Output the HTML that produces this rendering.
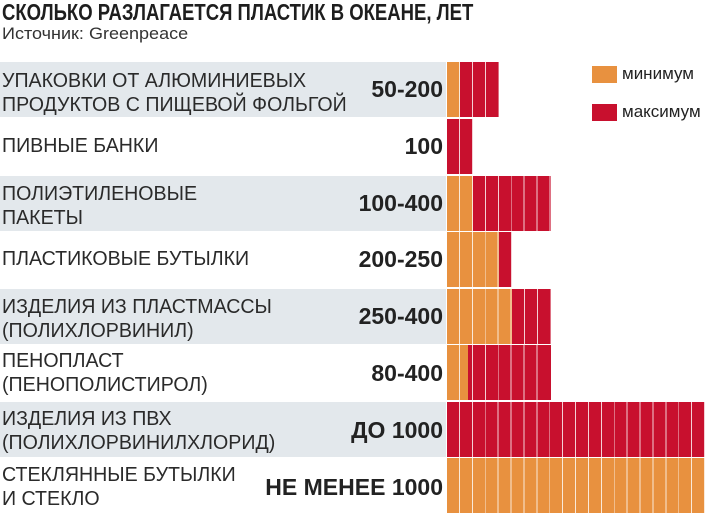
<!DOCTYPE html>
<html><head><meta charset="utf-8"><style>
body{margin:0;width:705px;height:517px;background:#fff;position:relative;overflow:hidden;font-family:"Liberation Sans",sans-serif;color:#222}
.t{position:absolute;left:2px;top:0px;font-weight:bold;font-size:23px;line-height:24px;white-space:nowrap;transform-origin:0 0;transform:scaleX(0.805);color:#1e1e1e}
.s{position:absolute;left:2px;top:23px;font-size:17px;line-height:22px;white-space:nowrap;transform-origin:0 0;transform:scaleX(1.06);color:#333}
.row{position:absolute;left:0;width:446px;height:55px}
.sh{background:#e3e8ec}
.lab{position:absolute;left:2px;font-size:20px;line-height:24px;white-space:nowrap;transform-origin:0 0;transform:scaleX(0.98);color:#2a2a2a}
.val{position:absolute;right:262px;font-weight:bold;font-size:23px;line-height:24px;white-space:nowrap;transform-origin:100% 0;transform:scaleX(1.0);color:#222}
.bar{position:absolute;left:447px;height:55px;background-image:repeating-linear-gradient(90deg,transparent 0,transparent 12px,rgba(255,255,255,0.8) 12px,rgba(255,255,255,0.8) 12.9px)}
.o{background-color:#e8913f}.r{background-color:#c8102e}
.lg{position:absolute;width:25px;height:17px}
.lt{position:absolute;left:622px;font-size:17px;line-height:18px;color:#222}
</style></head><body>
<div class="t">СКОЛЬКО РАЗЛАГАЕТСЯ ПЛАСТИК В ОКЕАНЕ, ЛЕТ</div>
<div class="s">Источник: Greenpeace</div>

<div class="row sh" style="top:62px"></div>
<div class="row sh" style="top:176px"></div>
<div class="row sh" style="top:289px"></div>
<div class="row sh" style="top:402px"></div>

<div class="lab" style="top:69px">УПАКОВКИ ОТ АЛЮМИНИЕВЫХ<br>ПРОДУКТОВ С ПИЩЕВОЙ ФОЛЬГОЙ</div>
<div class="val" style="top:77px">50-200</div>
<div class="lab" style="top:134px">ПИВНЫЕ БАНКИ</div>
<div class="val" style="top:134px">100</div>
<div class="lab" style="top:182px">ПОЛИЭТИЛЕНОВЫЕ<br>ПАКЕТЫ</div>
<div class="val" style="top:191px">100-400</div>
<div class="lab" style="top:247px">ПЛАСТИКОВЫЕ БУТЫЛКИ</div>
<div class="val" style="top:247px">200-250</div>
<div class="lab" style="top:295px">ИЗДЕЛИЯ ИЗ ПЛАСТМАССЫ<br>(ПОЛИХЛОРВИНИЛ)</div>
<div class="val" style="top:304px">250-400</div>
<div class="lab" style="top:349px">ПЕНОПЛАСТ<br>(ПЕНОПОЛИСТИРОЛ)</div>
<div class="val" style="top:361px">80-400</div>
<div class="lab" style="top:407px">ИЗДЕЛИЯ ИЗ ПВХ<br>(ПОЛИХЛОРВИНИЛХЛОРИД)</div>
<div class="val" style="top:418px">ДО 1000</div>
<div class="lab" style="top:463px">СТЕКЛЯННЫЕ БУТЫЛКИ<br>И СТЕКЛО</div>
<div class="val" style="top:475px">НЕ МЕНЕЕ 1000</div>

<div class="bar o" style="top:62px;width:13px"></div>
<div class="bar r" style="top:62px;left:460px;width:39px"></div>
<div class="bar r" style="top:119px;width:26px"></div>
<div class="bar o" style="top:176px;width:26px"></div>
<div class="bar r" style="top:176px;left:473px;width:78px"></div>
<div class="bar o" style="top:232px;width:52px"></div>
<div class="bar r" style="top:232px;left:499px;width:13px"></div>
<div class="bar o" style="top:289px;width:65px"></div>
<div class="bar r" style="top:289px;left:512px;width:39px"></div>
<div class="bar o" style="top:345px;width:21px"></div>
<div class="bar r" style="top:345px;left:468px;width:83px;background-position:-8px 0"></div>
<div class="bar r" style="top:402px;width:258px"></div>
<div class="bar o" style="top:458px;width:258px"></div>

<div class="lg o" style="left:592px;top:66px"></div>
<div class="lt" style="top:65px">минимум</div>
<div class="lg r" style="left:592px;top:104px"></div>
<div class="lt" style="top:103px">максимум</div>
</body></html>
